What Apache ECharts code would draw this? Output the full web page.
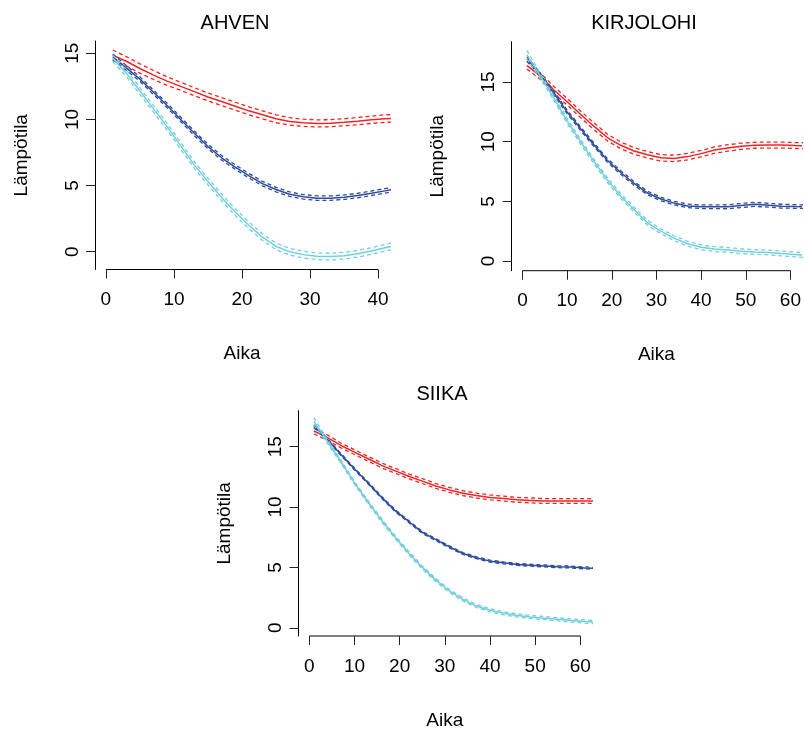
<!DOCTYPE html>
<html>
<head>
<meta charset="utf-8">
<script src="https://cdn.jsdelivr.net/npm/echarts@6/dist/echarts.min.js"></script>
<style>
html, body { margin: 0; padding: 0; background: #fff; }
#chart { width: 804px; height: 731px; }
</style>
</head>
<body>
<div id="chart"></div>
<script>
// time (Aika) sample points
const ahvenAika = [1, 3, 5, 7, 9, 11, 13, 15, 17, 19, 21, 23, 25, 27, 29, 31, 33, 35, 37, 39, 41, 43]
const longAika = [1, 4, 7, 10, 13, 16, 19, 22, 25, 28, 31, 34, 37, 40, 43, 46, 49, 52, 55, 58, 61, 64]

// AHVEN
const ahvenRed = [14.85, 14.4, 13.85, 13.35, 12.9, 12.5, 12.1, 11.7, 11.35, 11.0, 10.65, 10.35, 10.05, 9.85, 9.75, 9.7, 9.72, 9.78, 9.87, 9.97, 10.05, 10.1]
const ahvenRedUp = [15.25, 14.75, 14.2, 13.7, 13.22, 12.8, 12.4, 12.0, 11.65, 11.3, 10.95, 10.65, 10.35, 10.13, 10.02, 9.97, 9.98, 10.05, 10.15, 10.25, 10.35, 10.4]
const ahvenRedLo = [14.45, 14.05, 13.5, 13.02, 12.58, 12.2, 11.8, 11.4, 11.05, 10.7, 10.35, 10.05, 9.75, 9.57, 9.48, 9.43, 9.45, 9.52, 9.6, 9.7, 9.78, 9.82]
const ahvenBlue = [14.74, 13.9, 13.05, 12.05, 11.05, 10.0, 8.95, 7.95, 7.1, 6.4, 5.75, 5.15, 4.7, 4.35, 4.15, 4.05, 4.05, 4.12, 4.25, 4.42, 4.6, 4.78]
const ahvenBlueUp = [14.95, 14.08, 13.22, 12.22, 11.22, 10.17, 9.12, 8.12, 7.27, 6.57, 5.92, 5.32, 4.87, 4.52, 4.32, 4.22, 4.22, 4.29, 4.42, 4.59, 4.77, 4.95]
const ahvenBlueLo = [14.53, 13.72, 12.88, 11.88, 10.88, 9.83, 8.78, 7.78, 6.93, 6.23, 5.58, 4.98, 4.53, 4.18, 3.98, 3.88, 3.88, 3.95, 4.08, 4.25, 4.43, 4.61]
const ahvenCyan = [14.62, 13.5, 12.15, 10.8, 9.45, 8.0, 6.55, 5.3, 4.1, 3.0, 2.0, 1.1, 0.4, 0.0, -0.22, -0.35, -0.37, -0.3, -0.15, 0.05, 0.3, 0.5]
const ahvenCyanUp = [14.87, 13.75, 12.4, 11.05, 9.7, 8.25, 6.8, 5.55, 4.35, 3.25, 2.25, 1.35, 0.65, 0.25, 0.03, -0.1, -0.12, -0.05, 0.1, 0.3, 0.55, 0.75]
const ahvenCyanLo = [14.37, 13.25, 11.9, 10.55, 9.2, 7.75, 6.3, 5.05, 3.85, 2.75, 1.75, 0.85, 0.15, -0.25, -0.47, -0.6, -0.62, -0.55, -0.4, -0.2, 0.05, 0.25]

// KIRJOLOHI
const kirjoRed = [16.4, 15.5, 14.35, 13.35, 12.3, 11.3, 10.35, 9.7, 9.22, 8.9, 8.65, 8.6, 8.75, 9.0, 9.3, 9.48, 9.62, 9.7, 9.72, 9.72, 9.68, 9.65]
const kirjoRedUp = [16.7, 15.78, 14.63, 13.63, 12.58, 11.58, 10.63, 9.98, 9.5, 9.17, 8.92, 8.87, 9.02, 9.27, 9.57, 9.75, 9.88, 9.95, 9.97, 9.97, 9.93, 9.9]
const kirjoRedLo = [16.1, 15.22, 14.07, 13.07, 12.02, 11.02, 10.07, 9.42, 8.94, 8.63, 8.38, 8.33, 8.48, 8.73, 9.03, 9.21, 9.36, 9.45, 9.47, 9.47, 9.43, 9.4]
const kirjoBlue = [16.95, 15.6, 14.1, 12.5, 11.1, 9.75, 8.45, 7.42, 6.5, 5.7, 5.2, 4.85, 4.62, 4.55, 4.55, 4.55, 4.65, 4.75, 4.68, 4.6, 4.57, 4.55]
const kirjoBlueUp = [17.12, 15.75, 14.25, 12.65, 11.25, 9.9, 8.6, 7.57, 6.65, 5.85, 5.35, 5.0, 4.77, 4.7, 4.7, 4.72, 4.82, 4.92, 4.84, 4.76, 4.72, 4.7]
const kirjoBlueLo = [16.78, 15.45, 13.95, 12.35, 10.95, 9.6, 8.3, 7.27, 6.35, 5.55, 5.05, 4.7, 4.47, 4.4, 4.4, 4.38, 4.48, 4.58, 4.52, 4.44, 4.42, 4.4]
const kirjoCyan = [17.3, 15.5, 13.7, 11.75, 10.0, 8.35, 6.8, 5.45, 4.3, 3.2, 2.5, 1.9, 1.45, 1.15, 1.0, 0.93, 0.82, 0.76, 0.72, 0.63, 0.55, 0.48]
const kirjoCyanUp = [17.65, 15.72, 13.9, 11.95, 10.2, 8.55, 7.0, 5.65, 4.5, 3.4, 2.7, 2.1, 1.65, 1.35, 1.2, 1.13, 1.02, 0.96, 0.92, 0.83, 0.75, 0.68]
const kirjoCyanLo = [16.95, 15.28, 13.5, 11.55, 9.8, 8.15, 6.6, 5.25, 4.1, 3.0, 2.3, 1.7, 1.25, 0.95, 0.8, 0.73, 0.62, 0.56, 0.52, 0.43, 0.35, 0.28]

// SIIKA
const siikaRed = [16.3, 15.75, 15.1, 14.55, 14.0, 13.45, 13.0, 12.55, 12.15, 11.75, 11.42, 11.15, 10.95, 10.8, 10.7, 10.6, 10.55, 10.5, 10.5, 10.5, 10.5, 10.5]
const siikaRedUp = [16.55, 15.97, 15.3, 14.75, 14.2, 13.65, 13.2, 12.75, 12.35, 11.95, 11.62, 11.35, 11.15, 11.0, 10.9, 10.8, 10.75, 10.7, 10.7, 10.7, 10.7, 10.7]
const siikaRedLo = [16.05, 15.53, 14.9, 14.35, 13.8, 13.25, 12.8, 12.35, 11.95, 11.55, 11.22, 10.95, 10.75, 10.6, 10.5, 10.4, 10.35, 10.3, 10.3, 10.3, 10.3, 10.3]
const siikaBlue = [16.7, 15.6, 14.35, 13.15, 12.0, 10.8, 9.7, 8.8, 7.9, 7.3, 6.7, 6.15, 5.8, 5.52, 5.38, 5.25, 5.18, 5.12, 5.06, 5.03, 4.96, 4.9]
const siikaBlueUp = [16.82, 15.68, 14.43, 13.23, 12.08, 10.88, 9.78, 8.88, 7.98, 7.38, 6.78, 6.23, 5.88, 5.6, 5.46, 5.33, 5.26, 5.2, 5.14, 5.11, 5.04, 4.98]
const siikaBlueLo = [16.58, 15.52, 14.27, 13.07, 11.92, 10.72, 9.62, 8.72, 7.82, 7.22, 6.62, 6.07, 5.72, 5.44, 5.3, 5.17, 5.1, 5.04, 4.98, 4.95, 4.88, 4.82]
const siikaCyan = [17.1, 15.45, 13.75, 12.0, 10.4, 8.9, 7.5, 6.2, 5.0, 3.95, 3.05, 2.35, 1.8, 1.45, 1.2, 1.02, 0.9, 0.8, 0.7, 0.6, 0.52, 0.45]
const siikaCyanUp = [17.4, 15.6, 13.88, 12.13, 10.53, 9.03, 7.63, 6.33, 5.13, 4.08, 3.18, 2.48, 1.93, 1.58, 1.33, 1.15, 1.03, 0.93, 0.83, 0.73, 0.65, 0.58]
const siikaCyanLo = [16.8, 15.3, 13.62, 11.87, 10.27, 8.77, 7.37, 6.07, 4.87, 3.82, 2.92, 2.22, 1.67, 1.32, 1.07, 0.89, 0.77, 0.67, 0.57, 0.47, 0.39, 0.32]

// tick labels
const ahvenXTicks = [0, 10, 20, 30, 40]
const longXTicks = [0, 10, 20, 30, 40, 50, 60]
const tempTicks = [0, 5, 10, 15]

const FONT = '"Liberation Sans", Arial, sans-serif'
const RED = '#f02424'
const BLUE = '#2f4c9c'
const CYAN = '#72cfdc'

const panels = [
  {
    title: 'AHVEN', titleX: 235, titleY: 23,
    grid: { left: 95, top: 41, width: 294, height: 228.5 },
    xMin: -1.6, xMax: 41.6, yMin: -1.345, yMax: 15.93,
    xTicks: ahvenXTicks, aika: ahvenAika,
    groups: [
      [RED, ahvenRed, ahvenRedUp, ahvenRedLo],
      [BLUE, ahvenBlue, ahvenBlueUp, ahvenBlueLo],
      [CYAN, ahvenCyan, ahvenCyanUp, ahvenCyanLo]
    ]
  },
  {
    title: 'KIRJOLOHI', titleX: 644, titleY: 23,
    grid: { left: 511.7, top: 41.7, width: 293.3, height: 229 },
    xMin: -2.4, xMax: 62.4, yMin: -0.81, yMax: 18.38,
    xTicks: longXTicks, aika: longAika,
    groups: [
      [RED, kirjoRed, kirjoRedUp, kirjoRedLo],
      [BLUE, kirjoBlue, kirjoBlueUp, kirjoBlueLo],
      [CYAN, kirjoCyan, kirjoCyanUp, kirjoCyanLo]
    ]
  },
  {
    title: 'SIIKA', titleX: 442, titleY: 394,
    grid: { left: 298.5, top: 410.7, width: 292.7, height: 228.6 },
    xMin: -2.4, xMax: 62.4, yMin: -0.68, yMax: 17.98,
    xTicks: longXTicks, aika: longAika,
    groups: [
      [RED, siikaRed, siikaRedUp, siikaRedLo],
      [BLUE, siikaBlue, siikaBlueUp, siikaBlueLo],
      [CYAN, siikaCyan, siikaCyanUp, siikaCyanLo]
    ]
  }
]

const chart = echarts.init(document.getElementById('chart'))

const zip = (xs, ys) => xs.map((x, i) => [x, ys[i]])

const grids = []
const xAxes = []
const yAxes = []
const series = []

panels.forEach((p, i) => {
  grids.push(Object.assign({ containLabel: false }, p.grid))
  xAxes.push({
    type: 'value', gridIndex: i, min: p.xMin, max: p.xMax,
    axisLine: { show: false, onZero: false },
    splitLine: { show: false },
    axisTick: { show: true, length: 9, customValues: p.xTicks, lineStyle: { color: '#222' } },
    axisLabel: { customValues: p.xTicks, margin: 21, fontSize: 19, color: '#000', fontFamily: FONT },
    name: 'Aika', nameLocation: 'middle', nameGap: 75,
    nameTextStyle: { fontSize: 19, color: '#000', fontFamily: FONT }
  })
  yAxes.push({
    type: 'value', gridIndex: i, min: p.yMin, max: p.yMax,
    axisLine: { show: true, onZero: false, lineStyle: { color: '#000', width: 1 } },
    splitLine: { show: false },
    axisTick: { show: true, length: 9, customValues: tempTicks, lineStyle: { color: '#222' } },
    axisLabel: { customValues: tempTicks, rotate: 90, margin: 13, fontSize: 19, color: '#000', fontFamily: FONT },
    name: 'Lämpötila', nameLocation: 'middle', nameGap: 64,
    nameTextStyle: { fontSize: 19, color: '#000', fontFamily: FONT }
  })
  p.groups.forEach(([color, mean, up, lo]) => {
    const base = {
      type: 'line', xAxisIndex: i, yAxisIndex: i,
      symbol: 'none', clip: true, silent: true, animation: false
    }
    series.push(Object.assign({}, base, {
      data: zip(p.aika, up),
      lineStyle: { color: color, width: 1.3, type: [4, 3] }
    }))
    series.push(Object.assign({}, base, {
      data: zip(p.aika, lo),
      lineStyle: { color: color, width: 1.3, type: [4, 3] }
    }))
    series.push(Object.assign({}, base, {
      data: zip(p.aika, mean),
      lineStyle: { color: color, width: 1.5 }
    }))
  })
})

chart.setOption({
  backgroundColor: '#fff',
  animation: false,
  grid: grids,
  xAxis: xAxes,
  yAxis: yAxes,
  series: series
})

// R style x axis line: only from first to last tick, plus the panel titles
const graphics = []
panels.forEach((p, i) => {
  const a = chart.convertToPixel({ gridIndex: i }, [p.xTicks[0], p.yMin])
  const b = chart.convertToPixel({ gridIndex: i }, [p.xTicks[p.xTicks.length - 1], p.yMin])
  graphics.push({
    type: 'line', silent: true,
    shape: { x1: a[0], y1: a[1], x2: b[0], y2: b[1] },
    style: { stroke: '#000', lineWidth: 1 }
  })
  graphics.push({
    type: 'text', silent: true, x: p.titleX, y: p.titleY,
    style: { text: p.title, font: '20px ' + FONT, fill: '#000', align: 'center', verticalAlign: 'middle' }
  })
})
chart.setOption({ graphic: graphics })
</script>
</body>
</html>
